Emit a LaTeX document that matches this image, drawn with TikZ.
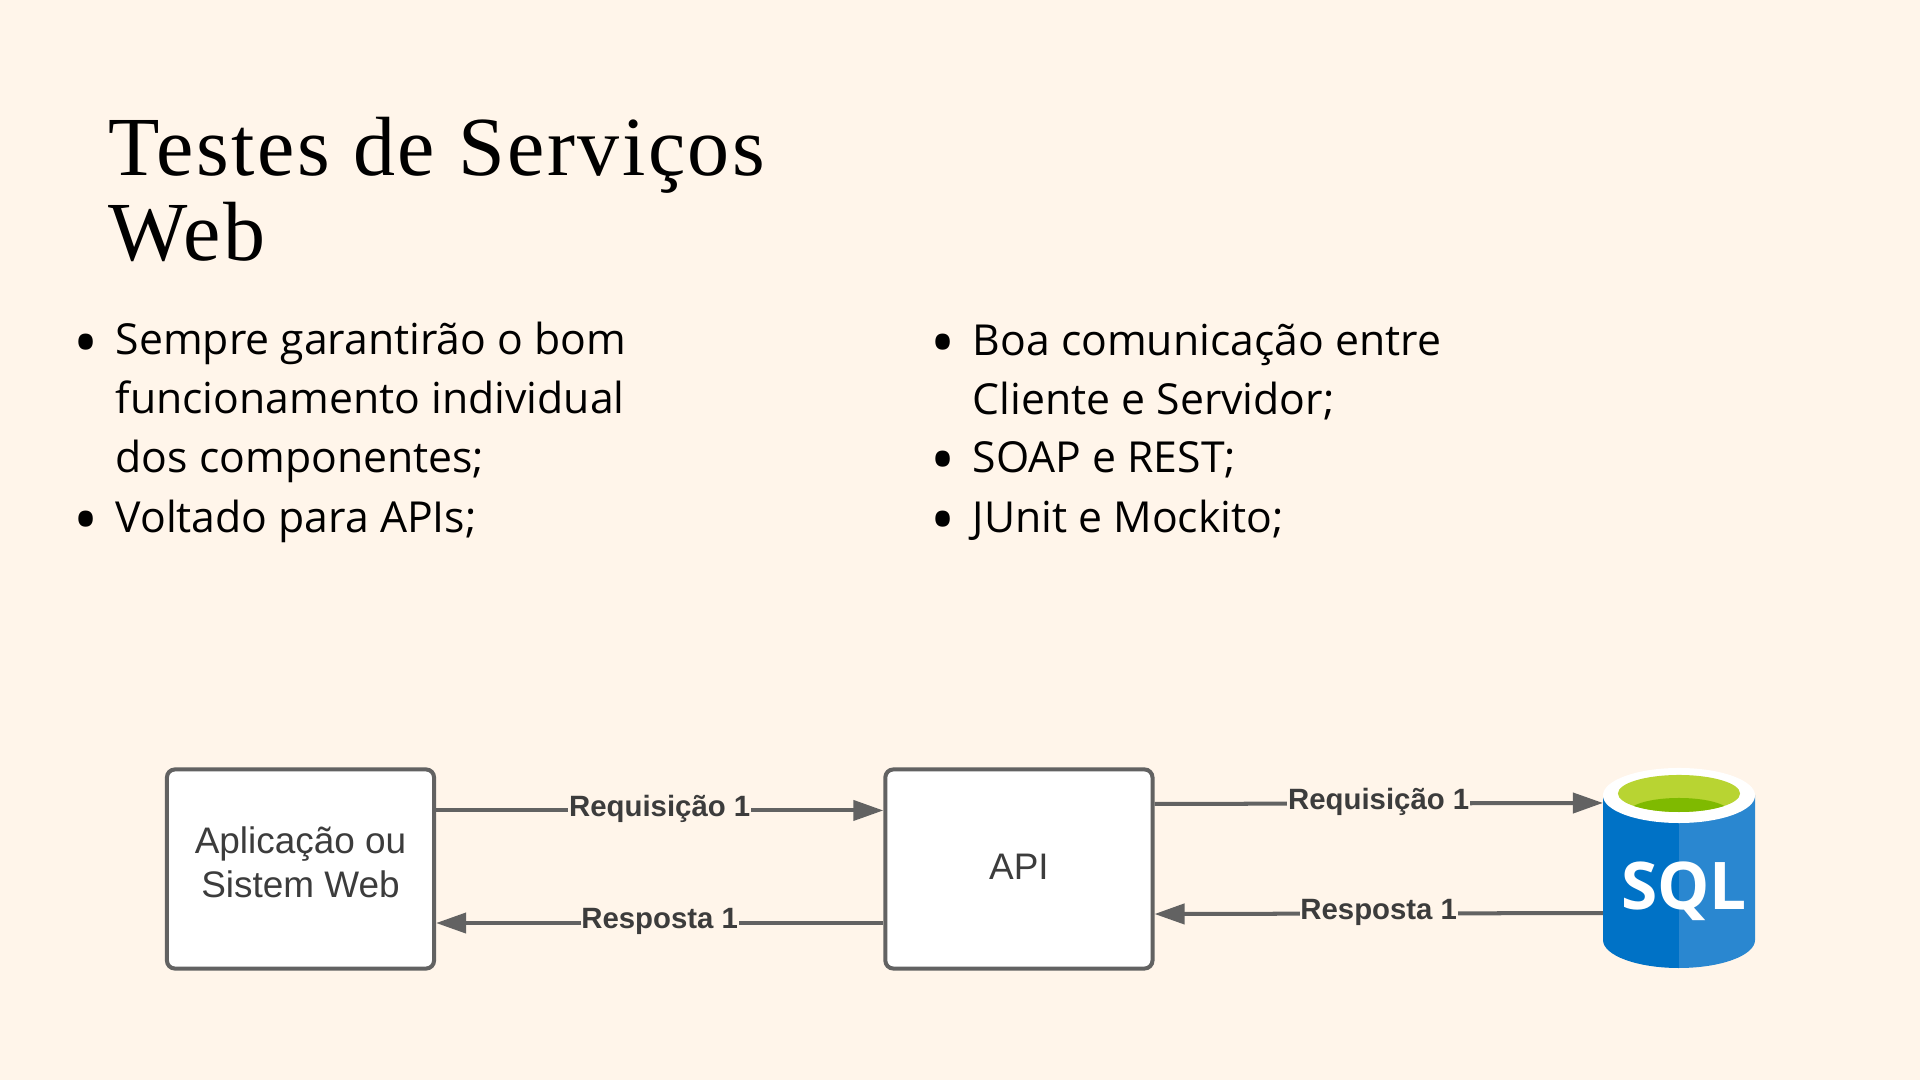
\documentclass[tikz,border=0pt]{standalone}
\usepackage{fontspec}
\setmainfont{Open Sans}
\newfontfamily\titlefont[LetterSpace=2.9]{Liberation Serif}
\newfontfamily\diagramfont{Liberation Sans}
\newfontfamily\sqlfont{Open Sans}
\usepackage{xcolor}
\usetikzlibrary{positioning}
\usetikzlibrary{arrows.meta}
\definecolor{paper}{HTML}{FFF5EA}
\definecolor{edgegray}{HTML}{626262}
\definecolor{textgray}{HTML}{3C3C3C}
\definecolor{dbdark}{HTML}{0072C6}
\definecolor{dblight}{HTML}{2A87D0}
\definecolor{dbgreen}{HTML}{B8D432}
\definecolor{dbleaf}{HTML}{7FBA00}
\tikzset{
	x=0.01cm,
	y=-0.01cm,
	heading/.style={anchor=base west,align=left,inner sep=0pt,font=\titlefont\fontsize{23.9}{24.2}\selectfont},
	item/.style={anchor=base west,align=left,inner sep=0pt,font=\fontsize{12.15}{16.8}\selectfont},
	dot/.style={anchor=base,inner sep=0pt,font=\fontsize{19}{19}\selectfont},
	service/.style={draw=edgegray,fill=white,line width=1.14pt,rounded corners=0.8mm,minimum width=26.7mm,minimum height=19.9mm,align=center,text=textgray,font=\diagramfont\fontsize{10.5}{12.5}\selectfont},
	link/.style={-{Triangle[length=3mm,width=2mm]},draw=edgegray,line width=1.14pt},
	backlink/.style={{Triangle[length=3mm,width=2mm]}-,draw=edgegray,line width=1.14pt},
	el/.style={fill=paper,inner xsep=0.2pt,inner ysep=0pt,text height=0.75em,text depth=0.2em,yshift=0.37mm,text=textgray,font=\diagramfont\bfseries\fontsize{8.35}{10}\selectfont}
}
\begin{document}
\begin{tikzpicture}
	\fill[paper] (0,0) rectangle (1920,1080);
	\useasboundingbox (0,0) rectangle (1920,1080);
	
	% Title
	\node (title) [heading] at (108,260.5) {Testes de Serviços\\Web};
	
	% Bullets
	\node (dota) [dot] at (86,366.5) {•};
	\node (itema) [item] at (115,472.5) {Sempre garantirão o bom\\funcionamento individual\\dos componentes;};
	\node (dotb) [dot] at (86,543.5) {•};
	\node (itemb) [item] at (115,532.5) {Voltado para APIs;};
	\node (dotc) [dot] at (943,366.5) {•};
	\node (itemc) [item] at (972,414.5) {Boa comunicação entre\\Cliente e Servidor;};
	\node (dotd) [dot] at (943,483.5) {•};
	\node (itemd) [item] at (972,472.5) {SOAP e REST;};
	\node (dote) [dot] at (943,543.5) {•};
	\node (iteme) [item] at (972,532.5) {JUnit e Mockito;};
	
	% Database
	\fill[dbdark] (1603,795) -- (1603,940) arc[start angle=180,end angle=270,x radius=7.6mm,y radius=2.8mm] -- (1679,795) -- cycle;
	\fill[dblight] (1679,968) arc[start angle=270,end angle=360,x radius=7.6mm,y radius=2.8mm] -- (1755,795) -- (1679,795) -- cycle;
	\fill[white] (1679,795.5) ellipse [x radius=7.6mm,y radius=2.75mm];
	\fill[dbgreen] (1679,793.5) ellipse [x radius=6.1mm,y radius=1.85mm];
	\begin{scope}
		\clip (1679,793.5) ellipse [x radius=6.1mm,y radius=1.85mm];
		\fill[dbleaf] (1679,812) ellipse [x radius=5mm,y radius=1.4mm];
	\end{scope}
	\node (sql) [minimum width=15.2mm,minimum height=20mm,inner sep=0pt,outer sep=0pt] at (1679,868) {};
	\node (sqllabel) [anchor=base,text=white,font=\sqlfont\bfseries\fontsize{18.7}{19}\selectfont] at (1684,910) {SQL};
	
	% Services
	\node (app) [service] at (300.5,869) {Aplicação ou\\Sistem Web\rule[-4pt]{0pt}{1pt}};
	\node (api) [service, right = 44.7mm of app] {API\rule[-1.4pt]{0pt}{1pt}};
	
	\path ([yshift=5.85mm]app.east) edge[link] node[el] {Requisição 1} ([yshift=5.85mm]api.west);
	\path ([yshift=-5.4mm]app.east) edge[backlink] node[el] {Resposta 1} ([yshift=-5.4mm]api.west);
	\path ([yshift=6.5mm]api.east) edge[link] node[el] {Requisição 1} ([yshift=6.5mm]sql.west);
	\path ([yshift=-4.5mm]api.east) edge[backlink] node[el] {Resposta 1} ([yshift=-4.5mm]sql.west);
\end{tikzpicture}
\end{document}
